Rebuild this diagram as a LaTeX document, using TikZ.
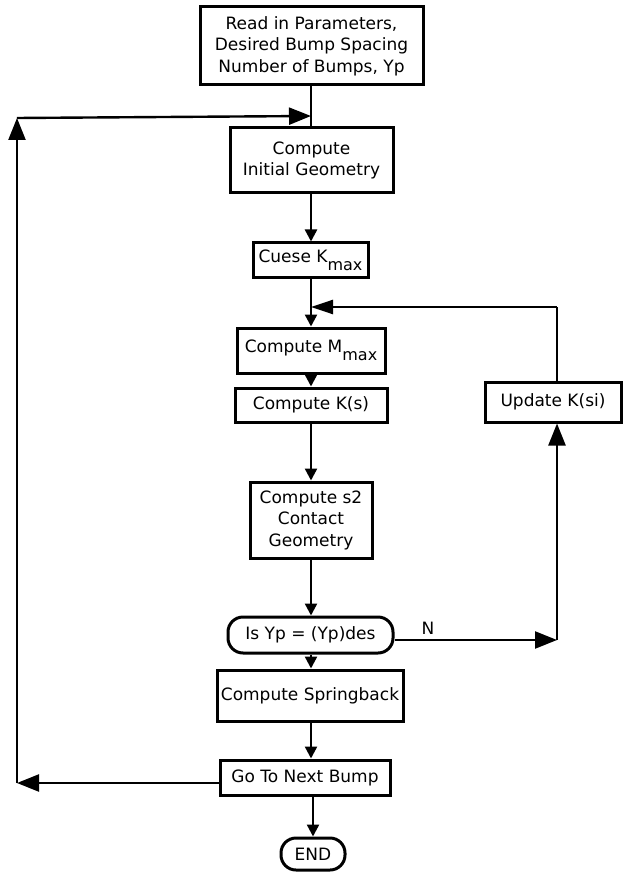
\documentclass[tikz,border=0pt]{standalone}
\usepackage{fontspec}
\setmainfont{DejaVu Sans}
\usetikzlibrary{arrows.meta}
\newcommand{\lowsub}[1]{\raisebox{-0.45em}{\fontsize{16}{16}\selectfont #1}}
\begin{document}
\begin{tikzpicture}[x=1pt,y=-1pt,
  procbox/.style={draw,line width=3pt,inner sep=0pt,align=center,font=\fontsize{17}{21.5}\selectfont},
  roundbox/.style={procbox,rounded corners=15pt},
  conn/.style={line width=2.4pt},
  smalltip/.style={conn,-{Triangle[length=12pt,width=12pt]}},
  bigtip/.style={conn,-{Triangle[length=22pt,width=17pt]}},
  lbl/.style={font=\fontsize{17}{18}\selectfont,inner sep=0pt}
]
\useasboundingbox (0,0) rectangle (624,882);
\node[procbox,minimum width=223pt,minimum height=78pt] (read) at (311.5,46) {Read in Parameters,\\Desired Bump Spacing\\Number of Bumps, Yp};
\node[procbox,minimum width=163pt,minimum height=65pt] (init) at (311.5,160.5) {Compute\\Initial Geometry};
\node[procbox,minimum width=115pt,minimum height=34pt] (guess) at (310.5,260) {Cuese K\lowsub{max}};
\node[procbox,minimum width=148pt,minimum height=45pt] (mmax) at (311,350.5) {Compute M\lowsub{max}};
\node[procbox,minimum width=152pt,minimum height=34pt] (ks) at (311,405) {Compute K(s)};
\node[procbox,minimum width=122pt,minimum height=76pt] (s2) at (311,520) {Compute s2\\Contact\\Geometry};
\node[roundbox,minimum width=165pt,minimum height=36pt] (dec) at (310.5,635) {Is Yp = (Yp)des};
\node[procbox,minimum width=186pt,minimum height=51pt] (spring) at (310,695.5) {Compute Springback};
\node[procbox,minimum width=170pt,minimum height=35pt] (next) at (305,777.5) {Go To Next Bump};
\node[roundbox,minimum width=64pt,minimum height=32pt] (end) at (313,854) {END};
\node[procbox,minimum width=136pt,minimum height=40pt] (upd) at (553,402) {Update K(si)};
\node[lbl] (nlab) at (428,628) {N};

\coordinate (jtop) at (311,116);
\coordinate (jleft) at (17,118);
\coordinate (lb) at (17,783);
\coordinate (jmid) at (311,307);
\coordinate (ur) at (557,307);
\coordinate (nr) at (557,640);

\draw[conn] (read.south -| jtop) -- (init.north -| jtop);
\draw[smalltip] (init.south -| jtop) -- (guess.north -| jtop);
\draw[smalltip] (guess.south -| jtop) -- (mmax.north -| jtop);
\draw[smalltip] (mmax.south -| jtop) -- (ks.north -| jtop);
\draw[smalltip] (ks.south -| jtop) -- (s2.north -| jtop);
\draw[smalltip] (s2.south -| jtop) -- (dec.north -| jtop);
\draw[smalltip] (dec.south -| jtop) -- (spring.north -| jtop);
\draw[smalltip] (spring.south -| jtop) -- (next.north -| jtop);
\draw[smalltip] (next.south -| end) -- (end);

\draw[bigtip] (dec.east |- nr) -- (nr);
\draw[bigtip] (nr) -- (nr |- upd.south);
\draw[conn] (nr |- upd.north) -- (ur);
\draw[conn,-{Triangle[length=22pt,width=14pt]}] (ur) -- (jmid);

\draw[bigtip] (next.west |- lb) -- (lb);
\draw[bigtip] (lb) -- (jleft);
\draw[bigtip] (jleft) -- (jtop);
\end{tikzpicture}
\end{document}
